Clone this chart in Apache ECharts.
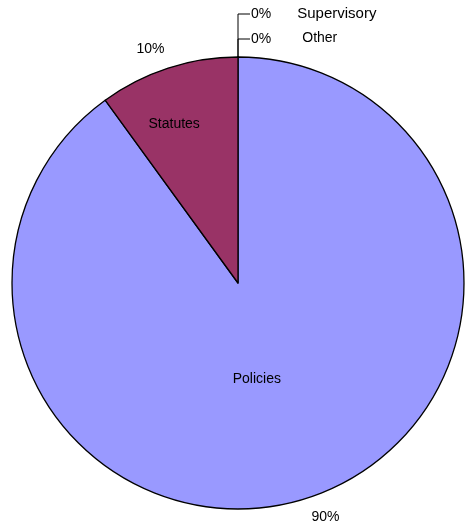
<!DOCTYPE html>
<html>
<head>
<meta charset="utf-8">
<script src="https://cdn.jsdelivr.net/npm/echarts@6/dist/echarts.min.js"></script>
<style>
  html, body { margin: 0; padding: 0; background: #ffffff; }
  #chart { width: 467px; height: 525px; }
</style>
</head>
<body>
<div id="chart"></div>
<script>
// ---- data ----
var categories = ['Supervisory', 'Other', 'Policies', 'Statutes'];
var values = [0, 0, 9, 1];
var sliceColors = ['#CCFFFF', '#FFFFCC', '#9999FF', '#993366'];

// ---- style helpers (label placement tweaks, not data) ----
var nameOffsets = { Statutes: [-28, -49], Policies: [-17, -14] };
var zeroLineLen = { Supervisory: 43, Other: 18 };
var zeroNameGap = { Supervisory: 26, Other: 31 };
var zeroNameSize = { Supervisory: 15, Other: 14 };
var zeroNamePad = { Supervisory: -1, Other: -2 };

var FONT = 'Liberation Sans, Arial, sans-serif';
var center = [238, 283];
var radius = 226;
var START = 89.9995;

var baseData = categories.map(function (c, i) {
  return { name: c, value: values[i], itemStyle: { color: sliceColors[i] } };
});

var nameData = baseData.map(function (d) {
  return {
    name: d.name, value: d.value, itemStyle: d.itemStyle,
    label: { show: d.value > 0 }
  };
});

var pctData = baseData.map(function (d) {
  var zero = d.value === 0;
  return {
    name: d.name, value: d.value,
    labelLine: zero
      ? { show: true, length: zeroLineLen[d.name], length2: 12 }
      : { show: false, length: 20, length2: 0 },
    label: { distanceToLabelLine: zero ? 1 : -2.5 }
  };
});

var rich = {
  p: { fontFamily: FONT, fontSize: 14, color: '#000' }
};
categories.forEach(function (c) {
  if (zeroNameGap[c] !== undefined) {
    rich['n' + c] = {
      fontFamily: FONT, fontSize: zeroNameSize[c], color: '#000',
      padding: [zeroNamePad[c], 0, 0, zeroNameGap[c]]
    };
  }
});

var chart = echarts.init(document.getElementById('chart'), null, { renderer: 'canvas' });
chart.setOption({
  backgroundColor: '#ffffff',
  animation: false,
  series: [
    {
      name: 'names',
      type: 'pie',
      center: center,
      radius: radius,
      startAngle: START,
      clockwise: true,
      avoidLabelOverlap: false,
      data: nameData,
      itemStyle: { borderColor: '#000000', borderWidth: 1.3 },
      label: {
        position: 'inside',
        formatter: '{b}',
        fontFamily: FONT,
        fontSize: 14,
        color: '#000'
      },
      labelLine: { show: false },
      labelLayout: function (params) {
        var off = nameOffsets[categories[params.dataIndex]];
        return off ? { dx: off[0], dy: off[1] } : {};
      },
      emphasis: { disabled: true }
    },
    {
      name: 'percent',
      type: 'pie',
      center: center,
      radius: radius,
      startAngle: START,
      clockwise: true,
      avoidLabelOverlap: false,
      silent: true,
      data: pctData,
      itemStyle: { color: 'rgba(0,0,0,0)', borderWidth: 0 },
      label: {
        position: 'outside',
        fontFamily: FONT,
        fontSize: 14,
        color: '#000',
        rich: rich,
        formatter: function (p) {
          var pct = Math.round(p.percent) + '%';
          if (p.value === 0) {
            return '{p|' + pct + '}{n' + p.name + '|' + p.name + '}';
          }
          return pct;
        }
      },
      labelLine: {
        lineStyle: { color: '#000', width: 1 },
        smooth: false
      },
      emphasis: { disabled: true }
    }
  ]
});
</script>
</body>
</html>
